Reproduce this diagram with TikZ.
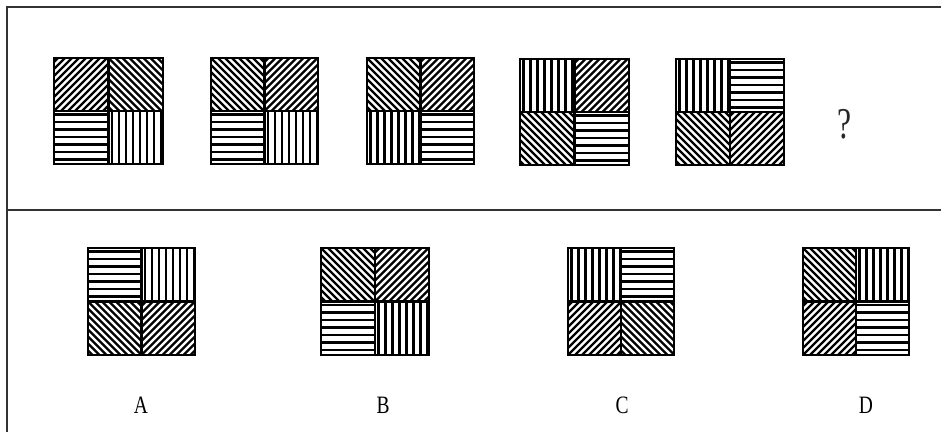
\documentclass[tikz,border=0pt]{standalone}
\usepackage{fontspec}
\setmainfont{Liberation Serif}
\newcommand\cellH[4]{\begin{scope}\clip (#1,#2) rectangle ++(#3,#4);
  \foreach \t in {3.5,11,...,60} \draw[hl] (#1,#2+\t) -- ++(#3,0);\end{scope}}
\newcommand\cellV[4]{\begin{scope}\clip (#1,#2) rectangle ++(#3,#4);
  \foreach \t in {3.5,10.5,...,60} \draw[hl] (#1+\t,#2) -- ++(0,#4);\end{scope}}
\newcommand\cellD[4]{\begin{scope}\clip (#1,#2) rectangle ++(#3,#4);
  \foreach \t in {-63,-56,...,64} \draw[dl] (#1+\t,#2+#4) -- ++(#4,-#4);\end{scope}}
\newcommand\cellB[4]{\begin{scope}\clip (#1,#2) rectangle ++(#3,#4);
  \foreach \t in {-63,-56,...,64} \draw[dl] (#1+\t,#2) -- ++(#4,#4);\end{scope}}
\newcommand\hsq[9]{%
  \pgfmathsetmacro\hw{#3/2}\pgfmathsetmacro\hh{#4/2}%
  \csname cell#5\endcsname{#1}{#2}{\hw}{\hh}%
  \csname cell#6\endcsname{#1+\hw}{#2}{\hw}{\hh}%
  \csname cell#7\endcsname{#1}{#2+\hh}{\hw}{\hh}%
  \csname cell#8\endcsname{#1+\hw}{#2+\hh}{\hw}{\hh}%
  \node[sqbox, minimum width=#3pt, minimum height=#4pt] (#9) at (#1+\hw,#2+\hh) {};
  \draw[mid] (#9.north) -- (#9.south);
  \draw[mid] (#9.west) -- (#9.east);
}
\begin{document}
\begin{tikzpicture}[x=1pt,y=-1pt,
  hl/.style={line width=2.3pt},
  dl/.style={line width=2.4pt},
  mid/.style={line width=2.4pt},
  sqbox/.style={draw, line width=2.8pt, inner sep=0pt, outer sep=0pt},
  frame/.style={line width=2.2pt, draw=black!80},
  lab/.style={font=\fontsize{25}{25}\selectfont, xscale=0.78, inner sep=0pt}]
\useasboundingbox (0,0) rectangle (941,432);
\coordinate (tl) at (7,7);
\coordinate (tr) at (941,7);
\coordinate (bl) at (7,432);
\coordinate (ml) at (7,210);
\coordinate (mr) at (941,210);
\draw[frame] (bl) -- (tl) -- (tr);
\draw[frame] (ml) -- (mr);
% question row
\hsq{54}{58}{109}{106}{D}{B}{H}{V}{q1}
\hsq{211}{58}{107}{106}{B}{D}{H}{V}{q2}
\hsq{367}{58}{107}{106}{B}{D}{V}{H}{q3}
\hsq{520}{59}{109}{106}{V}{D}{B}{H}{q4}
\hsq{676}{59}{108}{106}{V}{H}{B}{D}{q5}
\node[font=\fontsize{44}{44}\selectfont, xscale=0.72, inner sep=0pt, text=black!85] (qm) at (845,124) {?};
% options
\hsq{88}{248}{107}{107}{H}{V}{B}{D}{oA}
\hsq{321}{248}{108}{107}{B}{D}{H}{V}{oB}
\hsq{568}{248}{106}{107}{V}{H}{D}{B}{oC}
\hsq{803}{248}{106}{107}{B}{V}{D}{H}{oD}
\node[lab] (lA) at (141,405) {A};
\node[lab] (lB) at (383,405) {B};
\node[lab] (lC) at (622,405) {C};
\node[lab] (lD) at (866,405) {D};
\end{tikzpicture}
\end{document}
